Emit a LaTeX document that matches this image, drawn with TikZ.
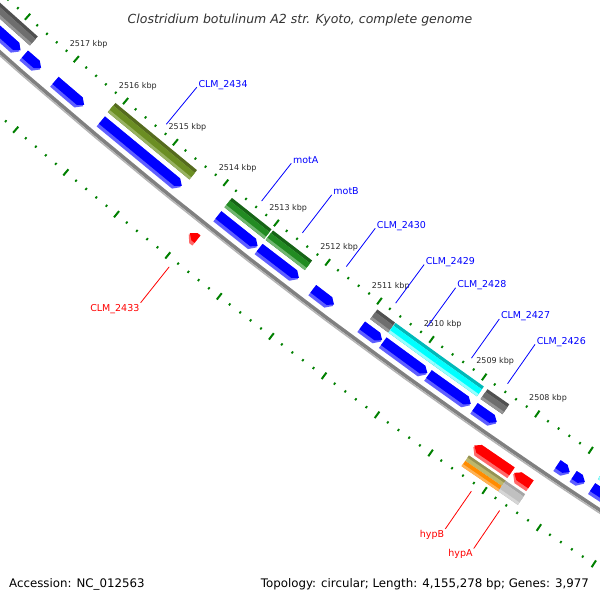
\documentclass[tikz,border=0pt]{standalone}
\usepackage{fontspec}
\setmainfont{DejaVu Sans}

\definecolor{bluemain}{RGB}{0,0,255}
\definecolor{bluelight}{RGB}{95,95,255}
\definecolor{redmain}{RGB}{255,0,0}
\definecolor{redlight}{RGB}{255,105,105}
\definecolor{olivedark}{RGB}{85,107,30}
\definecolor{olivemain}{RGB}{107,142,35}
\definecolor{olivelight}{RGB}{152,178,98}
\definecolor{greendark}{RGB}{22,100,22}
\definecolor{greenmain}{RGB}{34,139,34}
\definecolor{greenlight}{RGB}{112,182,112}
\definecolor{cyandark}{RGB}{0,185,185}
\definecolor{cyanmain}{RGB}{0,255,255}
\definecolor{cyanlight}{RGB}{150,255,255}
\definecolor{graydark}{RGB}{80,80,80}
\definecolor{graymain}{RGB}{110,110,110}
\definecolor{graylight}{RGB}{150,150,150}
\definecolor{khakidark}{RGB}{150,146,84}
\definecolor{khakimain}{RGB}{189,183,107}
\definecolor{orangemain}{RGB}{255,140,0}
\definecolor{orangelight}{RGB}{255,178,85}
\definecolor{lgraydark}{RGB}{165,165,165}
\definecolor{lgraymain}{RGB}{192,192,192}
\definecolor{lgraylight}{RGB}{214,214,214}
\definecolor{rulergreen}{RGB}{0,128,0}
\definecolor{bbgray}{RGB}{128,128,128}
\definecolor{bblight}{RGB}{180,180,180}
\definecolor{labelgray}{RGB}{40,40,40}

% kbp -> 极角
\newcommand\kang[1]{229.35+(2517-(#1))*0.681}

% 环形片段
\newcommand\band[5]{%
  \fill[#5] ({\kang{#1}}:#3) -- ({\kang{#2}}:#3) -- ({\kang{#2}}:#4) -- ({\kang{#1}}:#4) -- cycle;}

% 正链箭头 (指向 kbp 减小方向)
\newcommand\fwdarrow[5]{%
  \pgfmathsetmacro\rmid{(#3+#4)/2}%
  \pgfmathsetmacro\khead{min(#2+0.09,#1)}%
  \fill[#5] ({\kang{#1}}:#3) -- ({\kang{\khead}}:#3) -- ({\kang{#2}}:\rmid)
    -- ({\kang{\khead}}:#4) -- ({\kang{#1}}:#4) -- cycle;}

% 反链箭头 (指向 kbp 增大方向)
\newcommand\revarrow[5]{%
  \pgfmathsetmacro\rmid{(#3+#4)/2}%
  \pgfmathsetmacro\khead{max(#1-0.09,#2)}%
  \fill[#5] ({\kang{#1}}:\rmid) -- ({\kang{\khead}}:#3) -- ({\kang{#2}}:#3)
    -- ({\kang{#2}}:#4) -- ({\kang{\khead}}:#4) -- cycle;}

\newcommand\bluegene[2]{%
  \fwdarrow{#1}{#2}{5465}{5478}{bluelight}\fwdarrow{#1}{#2}{5465}{5474.5}{bluemain}}
\newcommand\redgene[2]{%
  \revarrow{#1}{#2}{5497}{5510}{redlight}\revarrow{#1}{#2}{5497}{5506.5}{redmain}}
\newcommand\cog[3]{%
  \band{#1}{#2}{5448}{5460}{#3dark}\band{#1}{#2}{5451.5}{5460}{#3light}%
  \band{#1}{#2}{5451.5}{5457}{#3main}}

% 基因标签
\newcommand\fwdlabel[3]{%
  \coordinate (#1p) at ({\kang{#2}}:5432);
  \coordinate (#1q) at ({\kang{#2}}:5384);
  \draw[fwdline] (#1p) -- (#1q);
  \node[fwdtext] (#1) at (#1q) {#3};}
\newcommand\revlabel[3]{%
  \coordinate (#1p) at ({\kang{#2}}:5541);
  \coordinate (#1q) at ({\kang{#2}}:5587);
  \draw[revline] (#1p) -- (#1q);
  \node[revtext] (#1) at (#1q) {#3};}

\tikzset{
  fwdline/.style={draw=bluemain, line width=0.8pt},
  revline/.style={draw=redmain, line width=0.8pt},
  fwdtext/.style={anchor=base west, inner sep=0pt, xshift=1.5pt, text=bluemain,
    font=\fontsize{9.5}{11}\selectfont},
  revtext/.style={anchor=north east, inner sep=1pt, text=redmain,
    font=\fontsize{9.5}{11}\selectfont},
  minortick/.style={draw=rulergreen, line width=1.8pt},
  majortick/.style={draw=rulergreen, line width=2pt},
  rulertext/.style={inner sep=0pt, text=labelgray, font=\fontsize{8}{9}\selectfont},
  foottext/.style={inner sep=0pt, font=\fontsize{11.8}{13}\selectfont},
}

\begin{document}
\begin{tikzpicture}[x=1pt, y=1pt]
    \useasboundingbox (0,0) rectangle (600,-600);
    \clip (0,0) rectangle (600,-600);

    \begin{scope}[shift={(3620,4068)}]
        % 绘制标尺
        \foreach \k in {2505,...,2519}{
            \foreach \f in {0.2,0.4,0.6,0.8}{
                \draw[minortick] ({\kang{\k+\f}}:5438.8) -- ({\kang{\k+\f}}:5441.2);
                \draw[minortick] ({\kang{\k+\f}}:5531.8) -- ({\kang{\k+\f}}:5534.2);
            }
            \draw[majortick] ({\kang{\k}}:5436) -- ({\kang{\k}}:5444);
            \draw[majortick] ({\kang{\k}}:5529) -- ({\kang{\k}}:5537);
        }
        \foreach \k in {2508,...,2517}
            \node[rulertext] (kb\k) at ({\kang{\k}}:5421) {\k\ kbp};

        % 绘制主干
        \draw[bbgray, line width=3.6pt] plot[domain=2505:2520, samples=31] ({\kang{\x}}:5484.8);
        \draw[bblight, line width=1.5pt] plot[domain=2505:2520, samples=31] ({\kang{\x}}:5487.4);

        % 正链 COG 颜色
        \cog{2519.5}{2517.68}{gray}
        \cog{2516.10}{2514.47}{olive}
        \cog{2513.78}{2513.00}{green}
        \cog{2512.97}{2512.21}{green}
        \cog{2510.95}{2510.61}{gray}
        \cog{2510.60}{2509.74}{cyan}
        \cog{2509.74}{2508.92}{cyan}
        \cog{2508.85}{2508.44}{gray}
        \cog{2506.66}{2505.00}{cyan}

        % 正链基因
        \bluegene{2519.5}{2517.74}
        \bluegene{2517.65}{2517.32}
        \bluegene{2517.03}{2516.45}
        \bluegene{2516.09}{2514.50}
        \bluegene{2513.78}{2513.01}
        \bluegene{2512.97}{2512.21}
        \bluegene{2511.93}{2511.53}
        \bluegene{2510.99}{2510.61}
        \bluegene{2510.58}{2509.75}
        \bluegene{2509.72}{2508.93}
        \bluegene{2508.85}{2508.44}
        \bluegene{2507.30}{2507.08}
        \bluegene{2507.00}{2506.80}
        \bluegene{2506.66}{2505.00}

        % 反链基因
        \redgene{2513.95}{2513.80}
        \redgene{2508.52}{2507.82}
        \redgene{2507.78}{2507.47}

        % 反链 COG 颜色 (hypB, hypA)
        \band{2508.50}{2507.82}{5513}{5519.5}{khakimain}
        \band{2508.50}{2507.82}{5513}{5515.5}{khakidark}
        \band{2508.50}{2507.82}{5519.5}{5526}{orangemain}
        \band{2508.50}{2507.82}{5523.5}{5526}{orangelight}
        \band{2507.82}{2507.46}{5513}{5526}{lgraydark}
        \band{2507.82}{2507.46}{5516}{5526}{lgraylight}
        \band{2507.82}{2507.46}{5516}{5523}{lgraymain}

        % 标签
        \fwdlabel{clm2434}{2515.285}{CLM\_2434}
        \fwdlabel{mota}{2513.39}{motA}
        \fwdlabel{motb}{2512.59}{motB}
        \fwdlabel{clm2430}{2511.73}{CLM\_2430}
        \fwdlabel{clm2429}{2510.78}{CLM\_2429}
        \fwdlabel{clm2428}{2510.17}{CLM\_2428}
        \fwdlabel{clm2427}{2509.33}{CLM\_2427}
        \fwdlabel{clm2426}{2508.645}{CLM\_2426}
        \revlabel{clm2433}{2513.875}{CLM\_2433}
        \revlabel{hypb}{2508.16}{hypB}
        \revlabel{hypa}{2507.64}{hypA}
    \end{scope}

    % 标题与页脚
    \node[anchor=base, inner sep=0pt, text={rgb,255:red,50;green,50;blue,50},
        font=\itshape\fontsize{12.5}{14}\selectfont] (title) at (300,-23.3)
        {Clostridium botulinum A2 str. Kyoto, complete genome};
    \node[foottext, anchor=base west] (acc) at (9,-587) {Accession: NC\_012563};
    \node[foottext, anchor=base east] (topo) at (589,-587)
        {Topology: circular; Length: 4,155,278 bp; Genes: 3,977};
\end{tikzpicture}
\end{document}
